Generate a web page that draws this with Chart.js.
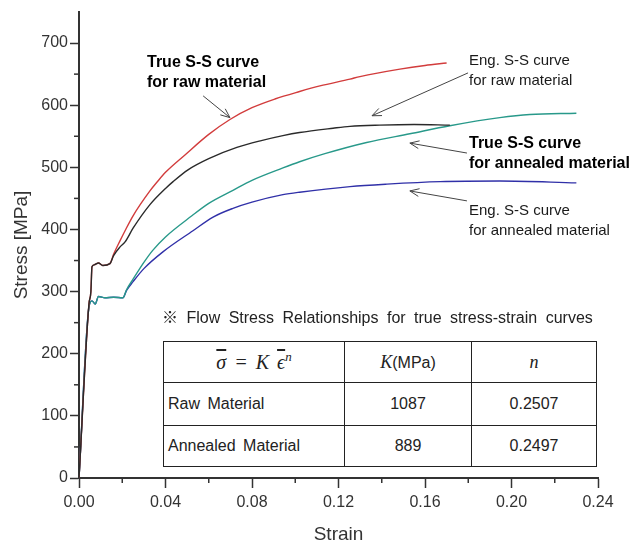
<!DOCTYPE html>
<html lang="en">
<head>
<meta charset="UTF-8">
<title>Stress-Strain Curves</title>
<script src="https://cdn.jsdelivr.net/npm/chart.js"></script>
<style>
	body { margin: 0; background: #fff; }
	.wrap { position: relative; width: 636px; height: 550px; }
	.note {
		position: absolute;
		font-family: 'Liberation Sans', Arial, sans-serif;
		font-size: 15px;
		line-height: 20px;
		color: #1a1a1a;
		white-space: nowrap;
	}
	.note.bold { font-weight: bold; color: #000; font-size: 16px; }
	.caption {
		position: absolute;
		left: 162px;
		top: 307px;
		font-family: 'Liberation Sans', Arial, 'Noto Sans CJK KR', sans-serif;
		font-size: 16px;
		line-height: 22px;
		word-spacing: 4px;
		color: #222;
		white-space: nowrap;
	}
	table.flow {
		position: absolute;
		left: 163px;
		top: 341px;
		width: 434px;
		border-collapse: collapse;
		font-family: 'Liberation Sans', Arial, sans-serif;
		font-size: 16px;
		color: #222;
		background: #fff;
	}
	table.flow td { border: 1.5px solid #222; text-align: center; padding: 0; }
	table.flow td:first-child { text-align: left; padding-left: 4px; word-spacing: 3px; }
	.m { font-family: 'Liberation Serif', 'DejaVu Serif', serif; font-style: italic; }
	.ov { text-decoration: overline; }
</style>
</head>
<body>
<div class="wrap">
	<canvas id="ssChart" width="636" height="550"></canvas>

	<div class="note bold" style="left:147px; top:52px;">True S-S curve<br>for raw material</div>
	<div class="note" style="left:469px; top:50px;">Eng. S-S curve<br>for raw material</div>
	<div class="note bold" style="left:469px; top:133px;">True S-S curve<br>for annealed material</div>
	<div class="note" style="left:469px; top:200px;">Eng. S-S curve<br>for annealed material</div>

	<div class="caption">※ Flow Stress Relationships for true stress-strain curves</div>
	<table class="flow" id="flowTable">
		<tr style="height:41px;">
			<td style="width:180px; text-align:center; padding-left:0;"><span class="m" style="font-size:20px;"><span class="ov">σ</span> = K <span class="ov">ϵ</span><sup style="font-size:13px;">n</sup></span></td>
			<td style="width:126px;"><span class="m" style="font-size:18px;">K</span>(MPa)</td>
			<td><span class="m" style="font-size:18px;">n</span></td>
		</tr>
	</table>
</div>

<script>
	// raw material, true stress-strain (red)
	const rawTrueStrain = [0, 0.0046, 0.0055, 0.006, 0.007, 0.009, 0.011, 0.0143, 0.016, 0.019, 0.0213, 0.025, 0.0328, 0.0365, 0.04, 0.049, 0.06, 0.0698, 0.08, 0.0906, 0.102, 0.1114, 0.1253, 0.1299, 0.1484, 0.16, 0.170];
	const rawTrueStress = [0, 280, 300, 340, 343, 346, 342, 345, 360, 382, 398, 422, 462, 478, 492, 520, 553, 577, 596, 610, 622, 631, 642, 646, 658, 664, 668];

	// raw material, engineering stress-strain (black)
	const rawEngStrain = [0, 0.0046, 0.0055, 0.006, 0.007, 0.009, 0.011, 0.0143, 0.016, 0.019, 0.0213, 0.025, 0.0328, 0.04, 0.0435, 0.0504, 0.06, 0.073, 0.0843, 0.0943, 0.102, 0.1175, 0.1253, 0.139, 0.155, 0.1715];
	const rawEngStress = [0, 280, 300, 340, 343, 346, 342, 345, 358, 372, 380, 402, 440, 466, 477, 496, 514, 532, 543, 551, 556, 563, 566, 568, 569, 568];

	// annealed material, true stress-strain (teal)
	const annTrueStrain = [0, 0.0046, 0.006, 0.0075, 0.009, 0.012, 0.016, 0.0203, 0.022, 0.025, 0.03, 0.034, 0.04, 0.0522, 0.06, 0.0712, 0.08, 0.0943, 0.102, 0.1137, 0.133, 0.153, 0.1715, 0.1946, 0.2085, 0.230];
	const annTrueStress = [0, 275, 285, 280, 292, 290, 291, 290, 303, 320, 347, 366, 388, 422, 442, 463, 479, 499, 509, 522, 540, 554, 567, 580, 585, 587];

	// annealed material, engineering stress-strain (blue)
	const annEngStrain = [0, 0.0046, 0.006, 0.0075, 0.009, 0.012, 0.016, 0.0203, 0.022, 0.025, 0.03, 0.0388, 0.0527, 0.062, 0.0712, 0.08, 0.0943, 0.102, 0.1253, 0.1424, 0.167, 0.1946, 0.230];
	const annEngStress = [0, 275, 285, 280, 292, 290, 291, 290, 302, 316, 337, 364, 398, 420, 434, 444, 456, 460, 469, 473, 477, 478, 475];

	// tick labels
	const strainLabels = [0, 0.04, 0.08, 0.12, 0.16, 0.20, 0.24];
	const stressLabels = [0, 100, 200, 300, 400, 500, 600, 700];

	// flow stress table
	const materials = ['Raw  Material', 'Annealed  Material'];
	const kValues = ['1087', '889'];
	const nValues = ['0.2507', '0.2497'];

	// arrows: [tailStrain, tailStress, headStrain, headStress]
	const arrows = [
		[0.0574, 615, 0.0698, 580],
		[0.1799, 652, 0.1355, 583],
		[0.1794, 523, 0.153, 539],
		[0.1794, 446, 0.153, 462]
	];

	// fill the table rows
	const tbl = document.getElementById('flowTable');
	materials.forEach((name, i) => {
		const tr = document.createElement('tr');
		tr.style.height = i === 0 ? '43px' : '41px';
		tr.innerHTML = `<td>${name}</td><td>${kValues[i]}</td><td>${nValues[i]}</td>`;
		tbl.appendChild(tr);
	});

	const toPoints = (xs, ys) => xs.map((x, i) => ({ x: x, y: ys[i] }));
	const isOn = (v, list) => list.some(l => Math.abs(v - l) < 1e-6);

	// minor ticks + annotation arrows
	const extrasPlugin = {
		id: 'extras',
		afterDraw(chart) {
			const c = chart.ctx;
			const xs = chart.scales.x, ys = chart.scales.y;
			c.save();
			c.strokeStyle = '#333';
			c.lineWidth = 1.5;
			for (let v = 0.02; v < 0.24; v += 0.04) {
				const px = xs.getPixelForValue(v);
				c.beginPath();
				c.moveTo(px, xs.top);
				c.lineTo(px, xs.top + 5);
				c.stroke();
			}
			for (let v = 50; v < 700; v += 100) {
				const py = ys.getPixelForValue(v);
				c.beginPath();
				c.moveTo(ys.right, py);
				c.lineTo(ys.right - 5, py);
				c.stroke();
			}
			c.strokeStyle = '#444';
			c.lineWidth = 1;
			arrows.forEach(a => {
				const x1 = xs.getPixelForValue(a[0]), y1 = ys.getPixelForValue(a[1]);
				const x2 = xs.getPixelForValue(a[2]), y2 = ys.getPixelForValue(a[3]);
				const ang = Math.atan2(y2 - y1, x2 - x1);
				c.beginPath();
				c.moveTo(x1, y1);
				c.lineTo(x2, y2);
				c.moveTo(x2 - 10 * Math.cos(ang - 0.4), y2 - 10 * Math.sin(ang - 0.4));
				c.lineTo(x2, y2);
				c.lineTo(x2 - 10 * Math.cos(ang + 0.4), y2 - 10 * Math.sin(ang + 0.4));
				c.stroke();
			});
			c.restore();
		}
	};

	const lineSet = (data, color) => ({
		data: data,
		borderColor: color,
		borderWidth: 1.4,
		pointRadius: 0,
		showLine: true,
		fill: false,
		cubicInterpolationMode: 'monotone'
	});

	new Chart(document.getElementById('ssChart'), {
		type: 'scatter',
		data: {
			datasets: [
				lineSet(toPoints(rawEngStrain, rawEngStress), '#2a2a2a'),
				lineSet(toPoints(rawTrueStrain, rawTrueStress), '#d23c3c'),
				lineSet(toPoints(annTrueStrain, annTrueStress), '#28998a'),
				lineSet(toPoints(annEngStrain, annEngStress), '#3030a8')
			]
		},
		options: {
			responsive: false,
			animation: false,
			layout: { padding: { top: 12, right: 38, left: 0, bottom: 0 } },
			plugins: { legend: { display: false }, tooltip: { enabled: false } },
			scales: {
				x: {
					type: 'linear',
					min: 0,
					max: 0.24,
					afterFit: s => { s.height = 72; },
					border: { color: '#333', width: 2 },
					grid: {
						drawOnChartArea: false,
						tickLength: 10,
						tickWidth: 1.5,
						tickColor: ctx => isOn(ctx.tick.value, strainLabels) ? '#333' : 'rgba(0,0,0,0)'
					},
					ticks: {
						stepSize: 0.04,
						padding: 5,
						color: '#333',
						font: { family: "'Liberation Sans', Arial, sans-serif", size: 16 },
						callback: v => isOn(v, strainLabels) ? v.toFixed(2) : ''
					},
					title: {
						display: true,
						text: 'Strain',
						color: '#333',
						font: { family: "'Liberation Sans', Arial, sans-serif", size: 19 },
						padding: { top: 4, bottom: 4 }
					}
				},
				y: {
					min: 0,
					max: 750,
					afterFit: s => { s.width = 79; },
					border: { color: '#333', width: 2 },
					grid: {
						drawOnChartArea: false,
						tickLength: 9,
						tickWidth: 1.5,
						tickColor: ctx => isOn(ctx.tick.value, stressLabels) ? '#333' : 'rgba(0,0,0,0)'
					},
					ticks: {
						stepSize: 100,
						padding: 2,
						color: '#333',
						font: { family: "'Liberation Sans', Arial, sans-serif", size: 16 },
						callback: v => isOn(v, stressLabels) ? String(v) : ''
					},
					title: {
						display: true,
						text: 'Stress [MPa]',
						color: '#333',
						font: { family: "'Liberation Sans', Arial, sans-serif", size: 19 },
						padding: { top: 10, bottom: 4 }
					}
				}
			}
		},
		plugins: [extrasPlugin]
	});
</script>
</body>
</html>
